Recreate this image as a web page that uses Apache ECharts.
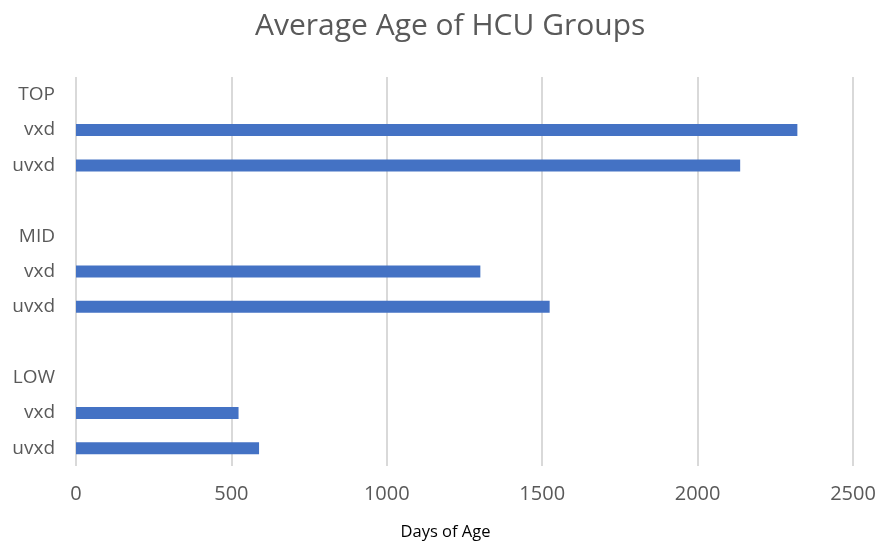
<!DOCTYPE html>
<html>
<head>
<meta charset="utf-8">
<script src="https://cdn.jsdelivr.net/npm/echarts@6/dist/echarts.min.js"></script>
<style>html,body{margin:0;padding:0;background:#fff}#c{width:879px;height:546px}</style>
</head>
<body>
<div id="c"></div>
<script>
const categories = ['TOP', 'vxd', 'uvxd', '', 'MID', 'vxd', 'uvxd', '', 'LOW', 'vxd', 'uvxd'];
const ageValues = ['-', 2321, 2137, '-', '-', 1301, 1524, '-', '-', 523, 589];
const xTicks = [0, 500, 1000, 1500, 2000, 2500];

const chart = echarts.init(document.getElementById('c'), null, {renderer: 'canvas'});
chart.setOption({
  animation: false,
  backgroundColor: '#ffffff',
  title: {
    text: 'Average Age of HCU Groups',
    left: 250,
    top: 6,
    textStyle: {fontFamily: 'Open Sans', fontSize: 30, fontWeight: 'normal', color: '#595959'}
  },
  grid: {left: 76, right: 26, top: 77, bottom: 72, containLabel: false},
  xAxis: {
    type: 'value',
    min: xTicks[0],
    max: xTicks[xTicks.length - 1],
    interval: 500,
    name: 'Days of Age',
    nameLocation: 'middle',
    nameGap: 58,
    nameTextStyle: {fontFamily: 'Open Sans', fontSize: 16.5, color: '#000000', padding: [0, 38, 0, 0]},
    axisLine: {show: false},
    axisTick: {show: false},
    axisLabel: {fontFamily: 'Open Sans', fontSize: 20, color: '#595959', margin: 18, formatter: v => String(v)},
    splitLine: {show: true, lineStyle: {color: '#d9d9d9', width: 2}}
  },
  yAxis: {
    type: 'category',
    inverse: true,
    data: categories,
    axisLine: {show: false},
    axisTick: {show: false},
    axisLabel: {fontFamily: 'Open Sans', fontSize: 19, color: '#595959', margin: 21}
  },
  series: [{
    type: 'bar',
    data: ageValues,
    barWidth: 12,
    itemStyle: {color: '#4472C4'}
  }]
});
</script>
</body>
</html>
